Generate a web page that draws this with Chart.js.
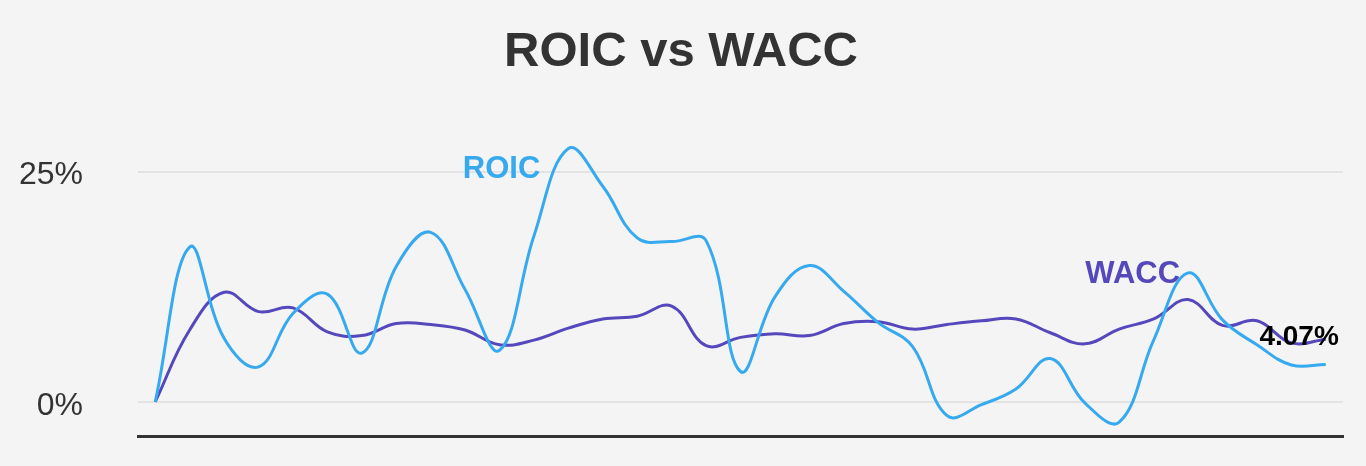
<!DOCTYPE html>
<html>
<head>
<meta charset="utf-8">
<script src="https://cdn.jsdelivr.net/npm/chart.js@4/dist/chart.umd.min.js"></script>
<style>
  html, body { margin: 0; padding: 0; background: #f4f4f4; }
  #wrap { width: 1366px; height: 466px; }
</style>
</head>
<body>
<div id="wrap"><canvas id="roicChart" width="1366" height="466"></canvas></div>
<script>
// data (percent)
const periods = ['1','2','3','4','5','6','7','8','9','10','11','12','13','14','15','16','17','18',
    '19','20','21','22','23','24','25','26','27','28','29','30','31','32','33','34','35'];
const roic = [0, 16.8, 6.9, 3.8, 9.6, 11.7, 5.3, 14.7, 18.4, 12.2, 5.6, 18.0, 27.5, 23.4, 17.8, 17.4, 17.5, 3.3,
    11.4, 14.8, 12.0, 8.6, 6.0, -1.5, -0.3, 1.4, 4.7, -0.1, -2.2, 6.7, 14.0, 8.9, 6.2, 4.0, 4.07];
const wacc = [0, 7.8, 11.9, 9.8, 10.2, 7.6, 7.2, 8.5, 8.4, 7.8, 6.2, 6.7, 8.0, 9.0, 9.3, 10.4, 6.1, 7.0,
    7.4, 7.2, 8.5, 8.7, 7.9, 8.4, 8.8, 9.0, 7.5, 6.3, 7.9, 9.0, 11.1, 8.3, 8.8, 6.4, 6.8];
const yTicks = [0, 25];

const ROIC_COLOR = '#37aaef';
const WACC_COLOR = '#5548bd';
const FONT = 'Helvetica, Arial, "Liberation Sans", sans-serif';

// text labels next to the lines
const lineLabels = {
    id: 'lineLabels',
    afterDatasetsDraw(chart) {
        const { ctx, scales: { x, y } } = chart;
        const last = roic.length - 1;
        ctx.save();
        ctx.font = 'bold 31px ' + FONT;
        ctx.textAlign = 'right';
        ctx.textBaseline = 'alphabetic';

        ctx.fillStyle = ROIC_COLOR;
        ctx.fillText('ROIC', x.getPixelForValue(12) - 28, y.getPixelForValue(roic[12]) + 30);

        ctx.fillStyle = WACC_COLOR;
        ctx.fillText('WACC', x.getPixelForValue(30) - 8, y.getPixelForValue(roic[30]) + 10);

        ctx.font = 'bold 28px ' + FONT;
        ctx.fillStyle = '#000';
        ctx.fillText(roic[last].toFixed(2) + '%', x.getPixelForValue(last) + 13, y.getPixelForValue(roic[last]) - 19);
        ctx.restore();
    }
};

const ctx = document.getElementById('roicChart').getContext('2d');
new Chart(ctx, {
    type: 'line',
    data: {
        labels: periods,
        datasets: [{
            label: 'ROIC',
            data: roic,
            borderColor: ROIC_COLOR,
            borderWidth: 3,
            pointRadius: 0,
            tension: 0.4
        }, {
            label: 'WACC',
            data: wacc,
            borderColor: WACC_COLOR,
            borderWidth: 3,
            pointRadius: 0,
            tension: 0.4
        }]
    },
    options: {
        responsive: false,
        animation: false,
        layout: { padding: { left: 19, right: 23, top: 0, bottom: 30 } },
        plugins: {
            legend: { display: false },
            tooltip: { enabled: false },
            title: {
                display: true,
                text: 'ROIC vs WACC',
                color: '#333',
                font: { family: FONT, size: 49, weight: 'bold', lineHeight: 1 },
                padding: { top: 28, bottom: 30 }
            }
        },
        scales: {
            x: {
                offset: true,
                grid: { display: false, drawTicks: false },
                ticks: { display: false },
                border: { display: true, color: '#333', width: 3 },
                afterFit(scale) { scale.height = 0; }
            },
            y: {
                min: -3.7,
                max: 32,
                afterBuildTicks(scale) {
                    scale.ticks = yTicks.map(v => ({ value: v }));
                },
                afterFit(scale) {
                    scale.width = 119;
                    scale.paddingTop = 0;
                    scale.paddingBottom = 0;
                },
                grid: { color: '#e3e3e3', lineWidth: 2, drawTicks: false },
                border: { display: false },
                ticks: {
                    padding: 55,
                    labelOffset: 4,
                    color: '#333',
                    font: { family: FONT, size: 32 },
                    callback: v => v + '%'
                }
            }
        }
    },
    plugins: [lineLabels]
});
</script>
</body>
</html>
